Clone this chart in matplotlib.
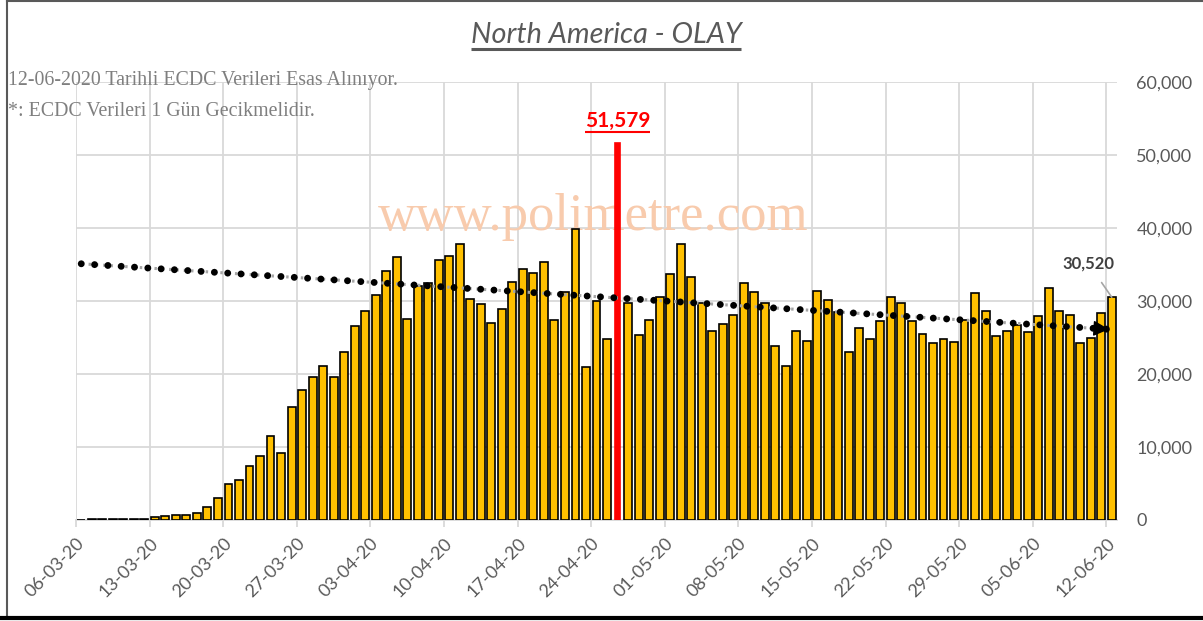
import matplotlib
matplotlib.use("Agg")
import matplotlib.pyplot as plt
from matplotlib.lines import Line2D
from matplotlib.ticker import FuncFormatter, MultipleLocator
from matplotlib.transforms import ScaledTranslation
import numpy as np

# Günlük vaka sayıları, 06-03-2020 .. 12-06-2020 (99 gün)
daily_cases = [
    40, 100, 90, 120, 130, 170, 200, 350, 550, 720,
    720, 900, 1740, 3060, 4890, 5430, 7440, 8720, 11500, 9130,
    15530, 17760, 19640, 21100, 19640, 22950, 26620, 28680, 30870, 34160,
    36030, 27540, 32060, 32510, 35660, 36210, 37850, 30320, 29590, 27030,
    28860, 32560, 34430, 33840, 35300, 27350, 31280, 39910, 20920, 29960,
    24800, 51579, 29770, 25350, 27350, 30550, 33650, 37850, 33290, 29730,
    25890, 26850, 28130, 32510, 31240, 29770, 23840, 21100, 25890, 24570,
    31420, 30140, 28450, 22970, 26260, 24800, 27210, 30550, 29770, 27210,
    25530, 24250, 24800, 24430, 27350, 31050, 28680, 25160, 25890, 26670,
    25710, 27950, 31830, 28680, 28130, 24250, 24980, 28320, 30520,
]
tick_labels = [
    "06-03-20", "13-03-20", "20-03-20", "27-03-20", "03-04-20", "10-04-20",
    "17-04-20", "24-04-20", "01-05-20", "08-05-20", "15-05-20", "22-05-20",
    "29-05-20", "05-06-20", "12-06-20",
]
# trend çizgisinin başı ve sonu
trend_values = [35100, 26100]

title = "North America - OLAY"
notes = ["12-06-2020 Tarihli ECDC Verileri Esas Alınıyor.",
         "*: ECDC Verileri 1 Gün Gecikmelidir."]
watermark = "www.polimetre.com"

W, H = 1203, 621
GRID = "#D9D9D9"
TXT = "#595959"
SANS = ["Lato", "DejaVu Sans"]
SERIF = ["Liberation Serif", "DejaVu Serif"]


def px(x, y):
    """Piksel koordinatlarını figure koordinatına çevirir (y yukarıdan)."""
    return x / W, 1 - y / H


def underline(fig, txt, color, lw, gap):
    """Metnin altına çizgi çeker (matplotlib'de underline yok)."""
    r = fig.canvas.get_renderer()
    bb = txt.get_window_extent(renderer=r)
    y = (bb.y0 - gap) / H
    fig.add_artist(Line2D([bb.x0 / W, bb.x1 / W], [y, y], transform=fig.transFigure,
                          color=color, linewidth=lw, solid_capstyle="butt"))


def main():
    n = len(daily_cases)
    x = np.arange(n) + 0.5
    vals = np.array(daily_cases)
    peak = int(np.argmax(vals))

    fig = plt.figure(figsize=(W / 100, H / 100), dpi=100)
    x0, y0 = px(76, 520)
    x1, y1 = px(1117, 82)
    ax = fig.add_axes([x0, y0, x1 - x0, y1 - y0])

    colors = ["#FFC000"] * n
    edges = ["black"] * n
    colors[peak] = "#FF0000"
    edges[peak] = "#FF0000"
    widths = [0.75] * n
    widths[peak] = 0.55
    ax.bar(x, vals, width=widths, color=colors, edgecolor=edges, linewidth=1.2, zorder=3)

    # trend çizgisi: gri noktalı + siyah yuvarlak noktalar + ok ucu
    tx = [x[0], x[-1]]
    ax.plot(tx, trend_values, color="#A6A6A6", linewidth=2.2,
            linestyle=(0, (0.8, 1.6)), zorder=4)
    ax.plot(tx, trend_values, color="black", linewidth=5,
            linestyle=(0, (0.001, 1.92)), dash_capstyle="round", zorder=5)
    slope = (trend_values[1] - trend_values[0]) / (tx[1] - tx[0])
    ax.annotate("", xy=(tx[1], trend_values[1]),
                xytext=(tx[1] - 1.2, trend_values[1] - 1.2 * slope),
                arrowprops=dict(arrowstyle="-|>", mutation_scale=24, color="black",
                                lw=1), zorder=6)

    ax.set_xlim(0, n)
    ax.set_ylim(0, 60000)
    ax.set_xticks(np.arange(0, n, 7))
    ax.set_xticklabels(tick_labels, rotation=45, ha="right", rotation_mode="anchor",
                       fontsize=13, color=TXT, family=SANS)
    shift = ScaledTranslation(5 / 72, 0, fig.dpi_scale_trans)
    for lab in ax.get_xticklabels():
        lab.set_transform(lab.get_transform() + shift)
    ax.yaxis.set_major_locator(MultipleLocator(10000))
    ax.yaxis.set_major_formatter(FuncFormatter(lambda v, p: f"{v:,.0f}"))
    ax.yaxis.tick_right()
    ax.tick_params(axis="y", length=0, pad=14, labelsize=13, labelcolor=TXT)
    ax.tick_params(axis="x", length=5, width=1.3, color=GRID, pad=6)
    for lab in ax.get_yticklabels():
        lab.set_family(SANS)
    ax.grid(True, color=GRID, linewidth=1.3, zorder=0)
    ax.set_axisbelow(True)
    for side in ["top", "right", "left"]:
        ax.spines[side].set_visible(False)
    ax.spines["bottom"].set_color(GRID)
    ax.spines["bottom"].set_linewidth(1.3)

    # filigran
    ax.text(0.5 * n - 0.3, 41500, watermark, ha="center", va="center", fontsize=38,
            color="#F8CBAD", family=SERIF, zorder=1)

    # etiketler
    peak_lbl = ax.text(x[peak], 53300, f"{vals[peak]:,}", ha="center", va="bottom",
                       fontsize=15, fontweight="bold", color="#FF0000", family=SANS, zorder=7)
    ax.annotate(f"{vals[-1]:,}", xy=(x[-1], vals[-1]), xytext=(x[-1] - 2.2, 35100),
                ha="center", va="center", fontsize=12, fontweight="bold", color="#404040",
                family=SANS, zorder=7,
                arrowprops=dict(arrowstyle="-", color="#A6A6A6", lw=1.2,
                                shrinkA=7, shrinkB=0))

    tt = fig.text(*px(606, 35), title, ha="center", va="center", fontsize=20.8,
                  style="italic", color=TXT, family=SANS)
    fig.text(*px(8, 81), notes[0], ha="left", va="center", fontsize=14.3,
             color="#7F7F7F", family=SERIF)
    fig.text(*px(8, 112), notes[1], ha="left", va="center", fontsize=14.3,
             color="#7F7F7F", family=SERIF)

    fig.canvas.draw()
    underline(fig, tt, TXT, 2.2, 1)
    underline(fig, peak_lbl, "#FF0000", 1.5, 1)

    # çerçeve
    fig.add_artist(Line2D([7 / W, 1], [1 - 1 / H] * 2, transform=fig.transFigure,
                          color="#595959", linewidth=1.5))
    fig.add_artist(Line2D([7 / W] * 2, [1 - 1 / H, 1 - 617 / H], transform=fig.transFigure,
                          color="#595959", linewidth=1.5))
    fig.add_artist(Line2D([0, 1], [1 - 618 / H] * 2, transform=fig.transFigure,
                          color="black", linewidth=3))

    fig.savefig("out.png", dpi=100)
    plt.close(fig)


if __name__ == "__main__":
    main()
